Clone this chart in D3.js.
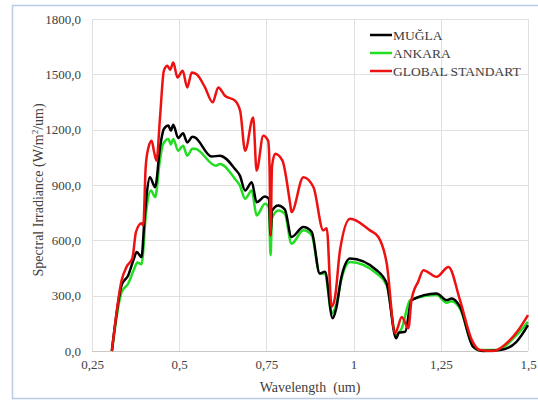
<!DOCTYPE html>
<html lang="tr">
<head>
<meta charset="utf-8"/>
<script src="https://d3js.org/d3.v7.min.js"></script>
<style>
  body { margin: 0; background: #fff; }
  text { font-family: "Liberation Serif", "Times New Roman", serif; fill: #404040; }
</style>
</head>
<body>
<svg id="chart"></svg>
<script>
  // wavelength (um) / irradiance (W/m2/um) pairs
  const globalWl  = [0.307,0.335,0.349,0.366,0.376,0.392,0.397,0.404,0.412,0.421,0.428,0.435,0.445,0.456,0.466,0.474,0.483,0.495,0.510,0.523,0.536,0.550,0.574,0.596,0.612,0.631,0.660,0.675,0.689,0.712,0.722,0.741,0.755,0.759,0.762,0.766,0.775,0.796,0.818,0.822,0.856,0.885,0.913,0.923,0.937,0.947,0.961,0.990,1.047,1.071,1.095,1.119,1.124,1.138,1.157,1.166,1.186,1.200,1.238,1.272,1.305,1.339,1.362,1.400,1.448,1.472,1.500];
  const globalVal = [0,384,456,505,645,692,680,1000,1104,1140,1080,1032,1266,1519,1546,1525,1564,1483,1519,1429,1510,1500,1429,1348,1429,1384,1357,1300,1086,1266,978,1167,1140,1000,627,1000,1070,1032,800,753,942,888,654,665,240,294,546,717,654,618,474,97,113,185,123,276,380,438,402,456,276,59,5,0,59,113,195];

  const muglaWl  = [0.307,0.335,0.354,0.370,0.378,0.392,0.400,0.407,0.416,0.431,0.445,0.456,0.469,0.476,0.483,0.497,0.511,0.523,0.538,0.545,0.593,0.617,0.660,0.674,0.689,0.708,0.722,0.746,0.757,0.762,0.766,0.784,0.803,0.822,0.856,0.880,0.903,0.918,0.940,0.950,0.965,0.990,1.066,1.095,1.122,1.130,1.148,1.166,1.238,1.267,1.281,1.305,1.343,1.372,1.420,1.467,1.500];
  const muglaVal = [0,357,411,500,537,510,700,852,942,888,1104,1204,1222,1195,1227,1155,1180,1131,1162,1158,1054,1059,987,951,870,915,807,838,825,627,760,789,767,618,672,645,420,429,177,230,400,501,438,366,69,100,104,276,312,276,285,240,23,0,5,50,140];

  const ankaraWl  = [0.307,0.335,0.354,0.370,0.380,0.392,0.405,0.419,0.431,0.445,0.454,0.469,0.476,0.483,0.497,0.511,0.523,0.538,0.545,0.605,0.617,0.660,0.674,0.689,0.708,0.722,0.746,0.757,0.762,0.766,0.784,0.803,0.822,0.856,0.880,0.903,0.918,0.937,0.950,0.965,0.990,1.066,1.095,1.122,1.138,1.162,1.238,1.267,1.281,1.305,1.343,1.362,1.410,1.467,1.500];
  const ankaraVal = [0,320,366,440,480,470,750,870,834,1040,1123,1150,1120,1150,1086,1113,1059,1096,1096,1005,1014,933,897,825,870,735,798,780,519,720,762,744,582,654,627,420,420,204,250,390,483,420,357,87,123,276,303,262,270,230,23,5,5,86,158];

  const seriesNames = ["MUĞLA", "ANKARA", "GLOBAL STANDART"];
  const seriesColors = ["#000000", "#22dd22", "#ee1111"];
  const xTicks = [0.25, 0.5, 0.75, 1, 1.25, 1.5];
  const xTickLabels = ["0,25", "0,5", "0,75", "1", "1,25", "1,5"];
  const yTicks = [0, 300, 600, 900, 1200, 1500, 1800];

  const W = 538, H = 401;
  const margin = {top: 19, left: 92, right: 10, bottom: 50};
  const width = 528 - margin.left, height = 351 - margin.top;

  const root = d3.select("#chart").attr("width", W).attr("height", H);

  // outer frame
  root.append("rect")
    .attr("x", 12.5).attr("y", 5.5).attr("width", 540).attr("height", 393)
    .attr("fill", "none").attr("stroke", "#b9cbe8").attr("stroke-width", 1.5);

  const svg = root.append("g").attr("transform", `translate(${margin.left},${margin.top})`);

  const x = d3.scaleLinear().domain([0.25, 1.5]).range([0, width]);
  const y = d3.scaleLinear().domain([0, 1800]).range([height, 0]);

  // grid
  svg.append("g").selectAll("line").data(yTicks).join("line")
    .attr("x1", 0).attr("x2", width)
    .attr("y1", d => Math.round(y(d)) + 0.5).attr("y2", d => Math.round(y(d)) + 0.5)
    .attr("stroke", d => d === 0 ? "#c8c8c8" : "#e0e0e0");
  svg.append("g").selectAll("line").data(xTicks).join("line")
    .attr("y1", 0).attr("y2", height)
    .attr("x1", d => Math.round(x(d)) + 0.5).attr("x2", d => Math.round(x(d)) + 0.5)
    .attr("stroke", "#e0e0e0");

  // axes labels
  const yAxis = svg.append("g").call(d3.axisLeft(y).tickValues(yTicks).tickSize(0).tickPadding(11)
    .tickFormat(d => d3.format(".1f")(d).replace(".", ",")));
  yAxis.select(".domain").remove();
  yAxis.selectAll("text").attr("font-size", 13).attr("font-family", null);

  const xAxis = svg.append("g").attr("transform", `translate(0,${height})`)
    .call(d3.axisBottom(x).tickValues(xTicks).tickSize(0).tickPadding(9)
      .tickFormat((d, i) => xTickLabels[i]));
  xAxis.select(".domain").remove();
  xAxis.selectAll("text").attr("font-size", 13).attr("font-family", null);

  root.append("text")
    .attr("x", 310).attr("y", 392).attr("text-anchor", "middle")
    .attr("font-size", 14).attr("fill", "#333")
    .style("white-space", "pre")
    .text("Wavelength  (um)");

  root.append("text")
    .attr("transform", "translate(43,190) rotate(-90)")
    .attr("text-anchor", "middle").attr("font-size", 14)
    .html("Spectral Irradiance (W/m<tspan baseline-shift='super' font-size='9'>2</tspan>/um)");

  // curves
  const line = d3.line().x(d => x(d[0])).y(d => y(d[1])).curve(d3.curveMonotoneX);
  const data = [
    d3.zip(muglaWl, muglaVal),
    d3.zip(ankaraWl, ankaraVal),
    d3.zip(globalWl, globalVal)
  ];
  // draw green first, then black, red on top
  [1, 0, 2].forEach(i => {
    svg.append("path").datum(data[i])
      .attr("d", line)
      .attr("fill", "none")
      .attr("stroke", seriesColors[i])
      .attr("stroke-width", 2.5)
      .attr("stroke-linejoin", "round");
  });

  // legend
  const legend = root.append("g").selectAll("g").data(seriesNames).join("g")
    .attr("transform", (d, i) => `translate(370,${35 + i * 18})`);
  legend.append("line")
    .attr("x1", 0).attr("x2", 22)
    .attr("stroke", (d, i) => seriesColors[i]).attr("stroke-width", 2.5);
  legend.append("text")
    .attr("x", 23).attr("dy", "0.35em")
    .attr("font-size", 13.5).attr("fill", "#333")
    .text(d => d);
</script>
</body>
</html>
